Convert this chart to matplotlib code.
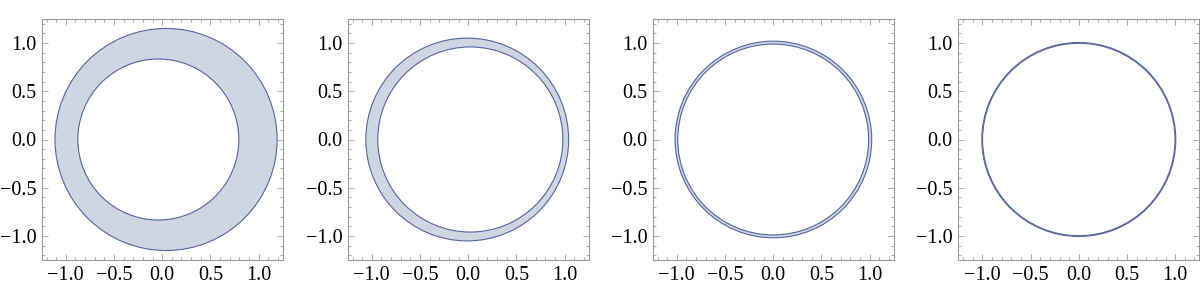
import matplotlib
matplotlib.use("Agg")
import matplotlib.pyplot as plt
from matplotlib.patches import Circle
from matplotlib.ticker import MultipleLocator

# annulus parameters for each panel (radius and centre x of outer / inner circle)
outer_r = [1.152, 1.052, 1.020, 1.006]
outer_cx = [0.040, -0.010, 0.002, 0.0]
inner_r = [0.835, 0.960, 0.990, 0.998]
inner_cx = [-0.040, 0.022, 0.0, 0.0]
tick_vals = [-1.0, -0.5, 0.0, 0.5, 1.0]
tick_labels = ["\u22121.0", "\u22120.5", "0.0", "0.5", "1.0"]

fill_col = "#cfd5e1"
edge_col = "#5464a0"
frame_col = "#9a9a9a"

plt.rcParams['font.family'] = ['Liberation Serif', 'DejaVu Serif']

fig = plt.figure(figsize=(12, 3.07), dpi=100)
lefts = [41.7, 347.7, 652.7, 958.3]

for i in range(4):
    ax = fig.add_axes([lefts[i] / 1200, 47 / 307, 241 / 1200, 241 / 307])
    ax.add_patch(Circle((outer_cx[i], 0), outer_r[i], facecolor=fill_col,
                        edgecolor=edge_col, lw=0.8))
    ax.add_patch(Circle((inner_cx[i], 0), inner_r[i], facecolor="white",
                        edgecolor=edge_col, lw=0.8))

    ax.set_xlim(-1.25, 1.25)
    ax.set_ylim(-1.25, 1.25)
    ax.set_xticks(tick_vals)
    ax.set_yticks(tick_vals)
    ax.xaxis.set_minor_locator(MultipleLocator(0.1))
    ax.yaxis.set_minor_locator(MultipleLocator(0.1))
    ax.set_xticklabels(tick_labels)
    ax.set_yticklabels(tick_labels)
    for lab in ax.get_xticklabels() + ax.get_yticklabels():
        lab.set_fontsize(14.5)
    ax.tick_params(which='both', direction='in', top=True, right=True,
                   color=frame_col, width=0.6, labelcolor='black', pad=4)
    ax.tick_params(which='major', length=4.5)
    ax.tick_params(which='minor', length=2.5)
    for s in ax.spines.values():
        s.set_color(frame_col)
        s.set_linewidth(0.8)

fig.savefig("out.png", dpi=100)
